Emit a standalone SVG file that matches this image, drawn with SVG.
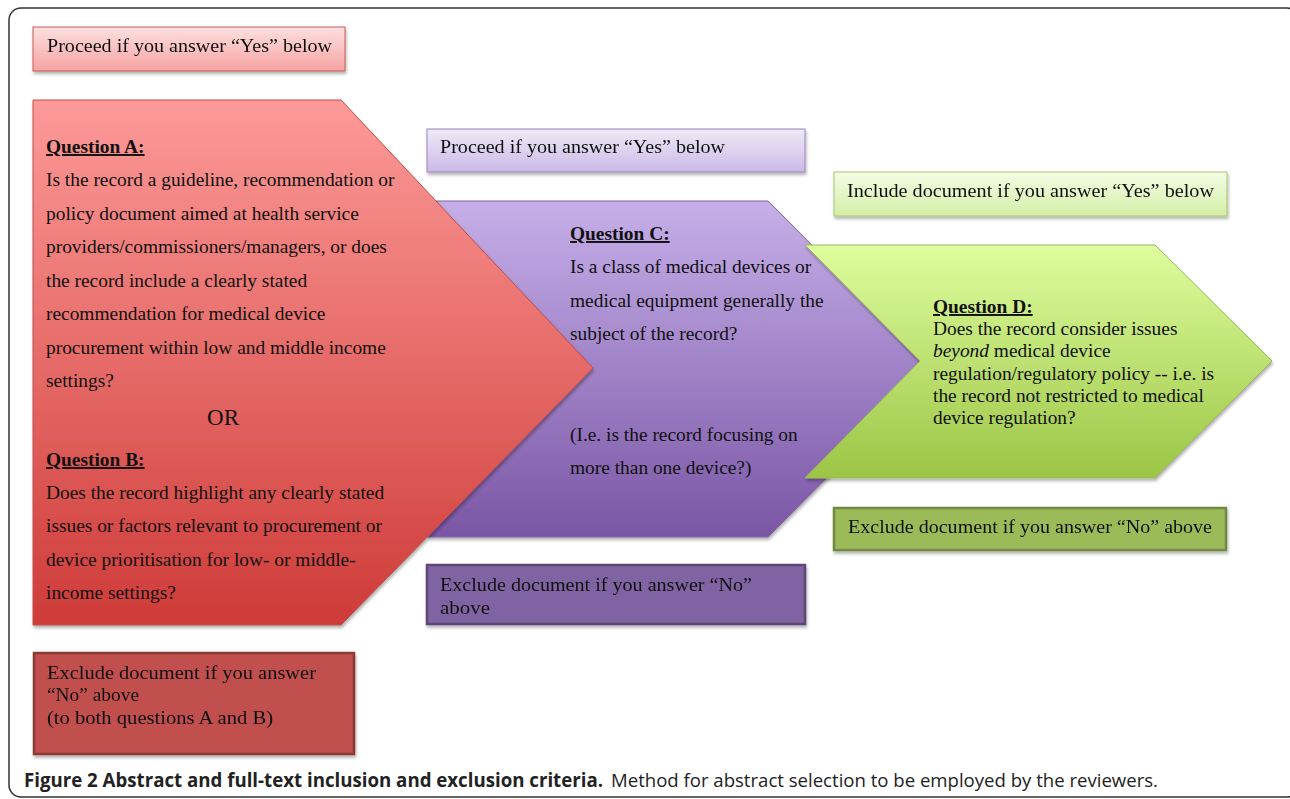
<svg xmlns="http://www.w3.org/2000/svg" width="1290" height="799" viewBox="0 0 1290 799">
<defs>
<linearGradient id="gPinkBox" x1="0" y1="0" x2="0" y2="1"><stop offset="0" stop-color="#fde0df"/><stop offset="1" stop-color="#f5a3a2"/></linearGradient>
<linearGradient id="gRed" x1="0" y1="0" x2="0" y2="1"><stop offset="0" stop-color="#fd9a98"/><stop offset="1" stop-color="#ce3b38"/></linearGradient>
<linearGradient id="gPurpleBox" x1="0" y1="0" x2="0" y2="1"><stop offset="0" stop-color="#efeaf7"/><stop offset="1" stop-color="#cbb9e6"/></linearGradient>
<linearGradient id="gPurple" x1="0" y1="0" x2="0" y2="1"><stop offset="0" stop-color="#c6afe9"/><stop offset="1" stop-color="#7a56a5"/></linearGradient>
<linearGradient id="gGreenBox" x1="0" y1="0" x2="0" y2="1"><stop offset="0" stop-color="#f4fde6"/><stop offset="1" stop-color="#d3eea6"/></linearGradient>
<linearGradient id="gGreen" x1="0" y1="0" x2="0" y2="1"><stop offset="0" stop-color="#defd9e"/><stop offset="1" stop-color="#9cc545"/></linearGradient>
<filter id="sh" x="-5%" y="-5%" width="110%" height="120%"><feDropShadow dx="1" dy="2.5" stdDeviation="1.5" flood-color="#000" flood-opacity="0.3"/></filter>
</defs>
<style>
.c{font-family:"Liberation Serif","Times New Roman",serif;font-size:19px;fill:#111}
.t{font-family:"Liberation Serif","Times New Roman",serif;font-size:19.4px;fill:#111}
.h{font-weight:bold;text-decoration:underline}
.cap{font-family:"Open Sans","Noto Sans",sans-serif;font-size:19px;fill:#222}
</style>
<rect x="9" y="8" width="1290" height="789" rx="12" ry="12" fill="#fff" stroke="#333" stroke-width="1.5"/>
<g id="connectors"/>
<g id="proceedA" filter="url(#sh)">
<rect x="33" y="27" width="312" height="44" fill="url(#gPinkBox)" stroke="#c75a57" stroke-width="1"/>
<text class="c" x="47" y="52" textLength="285" lengthAdjust="spacingAndGlyphs">Proceed if you answer “Yes” below</text>
</g>
<g id="questionC">
<polygon points="427,201 768,201 935,369 768,537 427,537 593,368" fill="url(#gPurple)" stroke="#8064a2" stroke-width="1" filter="url(#sh)"/>
<text class="t h" x="570" y="240">Question C:</text>
<text class="t" x="570" y="273">Is a class of medical devices or</text>
<text class="t" x="570" y="307">medical equipment generally the</text>
<text class="t" x="570" y="340">subject of the record?</text>
<text class="t" x="570" y="441">(I.e. is the record focusing on</text>
<text class="t" x="570" y="474">more than one device?)</text>
</g>
<g id="questionAB">
<polygon points="33,100 341,100 593,368 341,625 33,625" fill="url(#gRed)" stroke="#c0504d" stroke-width="1" filter="url(#sh)"/>
<text class="t h" x="46" y="153">Question A:</text>
<text class="t" x="46" y="186">Is the record a guideline, recommendation or</text>
<text class="t" x="46" y="220">policy document aimed at health service</text>
<text class="t" x="46" y="253">providers/commissioners/managers, or does</text>
<text class="t" x="46" y="287">the record include a clearly stated</text>
<text class="t" x="46" y="320">recommendation for medical device</text>
<text class="t" x="46" y="354">procurement within low and middle income</text>
<text class="t" x="46" y="387">settings?</text>
<text class="t" x="223" y="425" text-anchor="middle" style="font-size:23px">OR</text>
<text class="t h" x="46" y="466">Question B:</text>
<text class="t" x="46" y="499">Does the record highlight any clearly stated</text>
<text class="t" x="46" y="532">issues or factors relevant to procurement or</text>
<text class="t" x="46" y="566">device prioritisation for low- or middle-</text>
<text class="t" x="46" y="599">income settings?</text>
</g>
<g id="questionD">
<polygon points="805,245 1155,245 1272,361 1155,478 805,478 920,361" fill="url(#gGreen)" stroke="#9bbb59" stroke-width="1" filter="url(#sh)"/>
<text class="t h" x="933" y="313">Question D:</text>
<text class="t" x="933" y="335">Does the record consider issues</text>
<text class="t" x="933" y="357"><tspan font-style="italic">beyond</tspan> medical device</text>
<text class="t" x="933" y="380">regulation/regulatory policy -- i.e. is</text>
<text class="t" x="933" y="402">the record not restricted to medical</text>
<text class="t" x="933" y="424">device regulation?</text>
</g>
<g id="proceedC" filter="url(#sh)">
<rect x="427" y="129" width="378" height="43" fill="url(#gPurpleBox)" stroke="#9b85bd" stroke-width="1"/>
<text class="c" x="440" y="153" textLength="285" lengthAdjust="spacingAndGlyphs">Proceed if you answer “Yes” below</text>
</g>
<g id="includeD" filter="url(#sh)">
<rect x="834" y="172" width="393" height="44" fill="url(#gGreenBox)" stroke="#a9c56e" stroke-width="1"/>
<text class="c" x="847" y="197" textLength="367" lengthAdjust="spacingAndGlyphs">Include document if you answer “Yes” below</text>
</g>
<g id="excludeD" filter="url(#sh)">
<rect x="834" y="508" width="392" height="42" fill="#9bbb59" stroke="#71893f" stroke-width="2.5"/>
<text class="c" x="848" y="533" textLength="364" lengthAdjust="spacingAndGlyphs">Exclude document if you answer “No” above</text>
</g>
<g id="excludeC" filter="url(#sh)">
<rect x="427" y="565" width="378" height="59" fill="#8064a2" stroke="#5c4777" stroke-width="2.5"/>
<text class="c" x="440" y="591" textLength="312" lengthAdjust="spacingAndGlyphs">Exclude document if you answer “No”</text>
<text class="c" x="440" y="614" textLength="50" lengthAdjust="spacingAndGlyphs">above</text>
</g>
<g id="excludeAB" filter="url(#sh)">
<rect x="34" y="653" width="320" height="101" fill="#c0504d" stroke="#8c3836" stroke-width="2.5"/>
<text class="c" x="47" y="679" textLength="269" lengthAdjust="spacingAndGlyphs">Exclude document if you answer</text>
<text class="c" x="47" y="701" textLength="92" lengthAdjust="spacingAndGlyphs">“No” above</text>
<text class="c" x="47" y="724" textLength="226" lengthAdjust="spacingAndGlyphs">(to both questions A and B)</text>
</g>
<g id="caption">
<text class="cap" x="24" y="787" font-weight="bold" textLength="579" lengthAdjust="spacingAndGlyphs">Figure 2 Abstract and full-text inclusion and exclusion criteria.</text>
<text class="cap" x="611" y="787" textLength="547" lengthAdjust="spacingAndGlyphs">Method for abstract selection to be employed by the reviewers.</text>
</g>
</svg>
